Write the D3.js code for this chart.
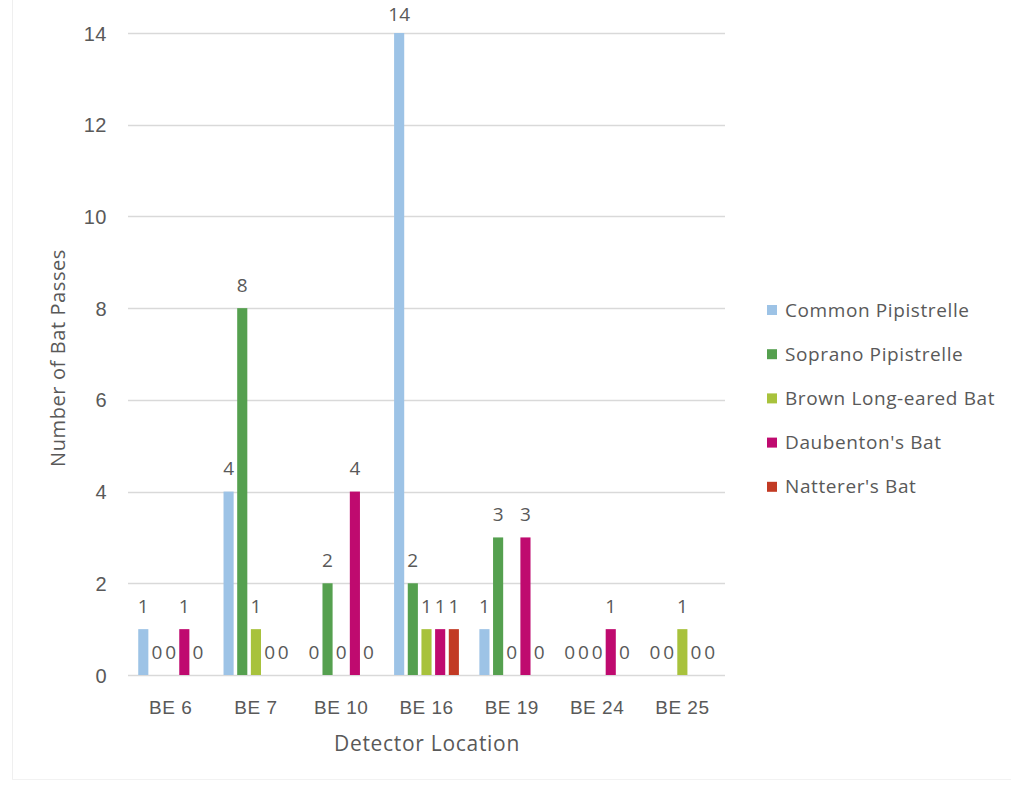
<!DOCTYPE html>
<html>
<head>
<meta charset="utf-8">
<script src="https://cdn.jsdelivr.net/npm/d3@7"></script>
<style>
  html, body { margin: 0; padding: 0; background: #fff; }
  svg { display: block; font-family: "Open Sans", "DejaVu Sans", sans-serif; }
</style>
</head>
<body>
<svg id="chart" width="1011" height="785"></svg>
<script>
// Bat passes recorded at each detector location, by species
const locations = ["BE 6", "BE 7", "BE 10", "BE 16", "BE 19", "BE 24", "BE 25"];
const species = ["Common Pipistrelle", "Soprano Pipistrelle", "Brown Long-eared Bat", "Daubenton's Bat", "Natterer's Bat"];
const commonPipistrelle  = [1, 4, 0, 14, 1, 0, 0];
const sopranoPipistrelle = [0, 8, 2, 2, 3, 0, 0];
const brownLongEared     = [0, 1, 0, 1, 0, 0, 1];
const daubentons         = [1, 0, 4, 1, 3, 1, 0];
const natterers          = [0, 0, 0, 1, 0, 0, 0];
const yTicks = [0, 2, 4, 6, 8, 10, 12, 14];
const colors = ["#9dc3e6", "#55a04f", "#a8c23c", "#bf0a6f", "#c23a24"];

const seriesValues = [commonPipistrelle, sopranoPipistrelle, brownLongEared, daubentons, natterers];
const rows = locations.map((loc, i) => ({
  loc,
  vals: species.map((sp, j) => ({ sp, v: seriesValues[j][i], c: colors[j] }))
}));

const svg = d3.select("#chart");
const textColor = "#595959";

// Faint frame of the chart area
svg.append("line").attr("x1", 12.5).attr("x2", 12.5).attr("y1", 0).attr("y2", 779)
  .attr("stroke", "#efefef").attr("stroke-width", 1);
svg.append("line").attr("x1", 12).attr("x2", 1011).attr("y1", 779.5).attr("y2", 779.5)
  .attr("stroke", "#f2f2f2").attr("stroke-width", 1);

const plot = { left: 128, right: 725, top: 33, bottom: 675 };

const x0 = d3.scaleBand().domain(locations).range([plot.left, plot.right]).paddingInner(0.24).paddingOuter(0.12);
const x1 = d3.scaleBand().domain(species).range([0, x0.bandwidth()]).paddingInner(0.26).paddingOuter(0);
const y = d3.scaleLinear().domain([0, 14]).range([plot.bottom, plot.top]);

// Horizontal gridlines
svg.append("g").selectAll("line").data(yTicks).join("line")
  .attr("x1", plot.left).attr("x2", plot.right)
  .attr("y1", d => Math.round(y(d)) + 0.5).attr("y2", d => Math.round(y(d)) + 0.5)
  .attr("stroke", "#d9d9d9").attr("stroke-width", 1.3);

// Y axis tick labels
const yAxis = d3.axisLeft(y).tickValues(yTicks).tickSize(0).tickPadding(0);
const yg = svg.append("g").attr("transform", `translate(107,0)`).call(yAxis);
yg.select(".domain").remove();
yg.selectAll("text").attr("fill", textColor).style("font-size", "20px")
  .style("letter-spacing", "0.5px").attr("dy", "0.35em");

// X axis category labels
const xAxis = d3.axisBottom(x0).tickSize(0).tickPadding(0);
const xg = svg.append("g").attr("transform", `translate(0,${plot.bottom + 32})`).call(xAxis);
xg.select(".domain").remove();
xg.selectAll("text").attr("fill", textColor).style("font-size", "19px")
  .style("letter-spacing", "0.5px").attr("dy", "0.35em");

// Bars
const groups = svg.append("g").selectAll("g").data(rows).join("g")
  .attr("transform", d => `translate(${x0(d.loc)},0)`);

groups.selectAll("rect").data(d => d.vals).join("rect")
  .attr("x", d => x1(d.sp))
  .attr("width", x1.bandwidth())
  .attr("y", d => y(d.v))
  .attr("height", d => y(0) - y(d.v))
  .attr("fill", d => d.c);

// Value labels above each bar, kept inside the top edge
groups.selectAll("text").data(d => d.vals).join("text")
  .attr("x", d => x1(d.sp) + x1.bandwidth() / 2)
  .attr("y", d => Math.max(y(d.v) - 23, 14))
  .attr("dy", "0.35em")
  .attr("text-anchor", "middle")
  .attr("fill", textColor)
  .style("font-size", "19px")
  .text(d => d.v);

// Axis titles
svg.append("text")
  .attr("transform", `translate(58,${358}) rotate(-90)`)
  .attr("text-anchor", "middle").attr("dy", "0.35em")
  .attr("fill", textColor).style("font-size", "20px").style("letter-spacing", "0.6px")
  .text("Number of Bat Passes");

svg.append("text")
  .attr("x", 427).attr("y", 744)
  .attr("text-anchor", "middle").attr("dy", "0.35em")
  .attr("fill", textColor).style("font-size", "21px").style("letter-spacing", "0.7px")
  .text("Detector Location");

// Legend
const legend = svg.append("g").attr("transform", "translate(767,310)");
const li = legend.selectAll("g").data(species).join("g")
  .attr("transform", (d, i) => `translate(0,${i * 44.2})`);
li.append("rect").attr("x", 0).attr("y", -5).attr("width", 10).attr("height", 10)
  .attr("fill", (d, i) => colors[i]);
li.append("text").attr("x", 18).attr("y", 0).attr("dy", "0.35em")
  .attr("fill", textColor).style("font-size", "19px").style("letter-spacing", "0.6px")
  .text(d => d);
</script>
</body>
</html>
